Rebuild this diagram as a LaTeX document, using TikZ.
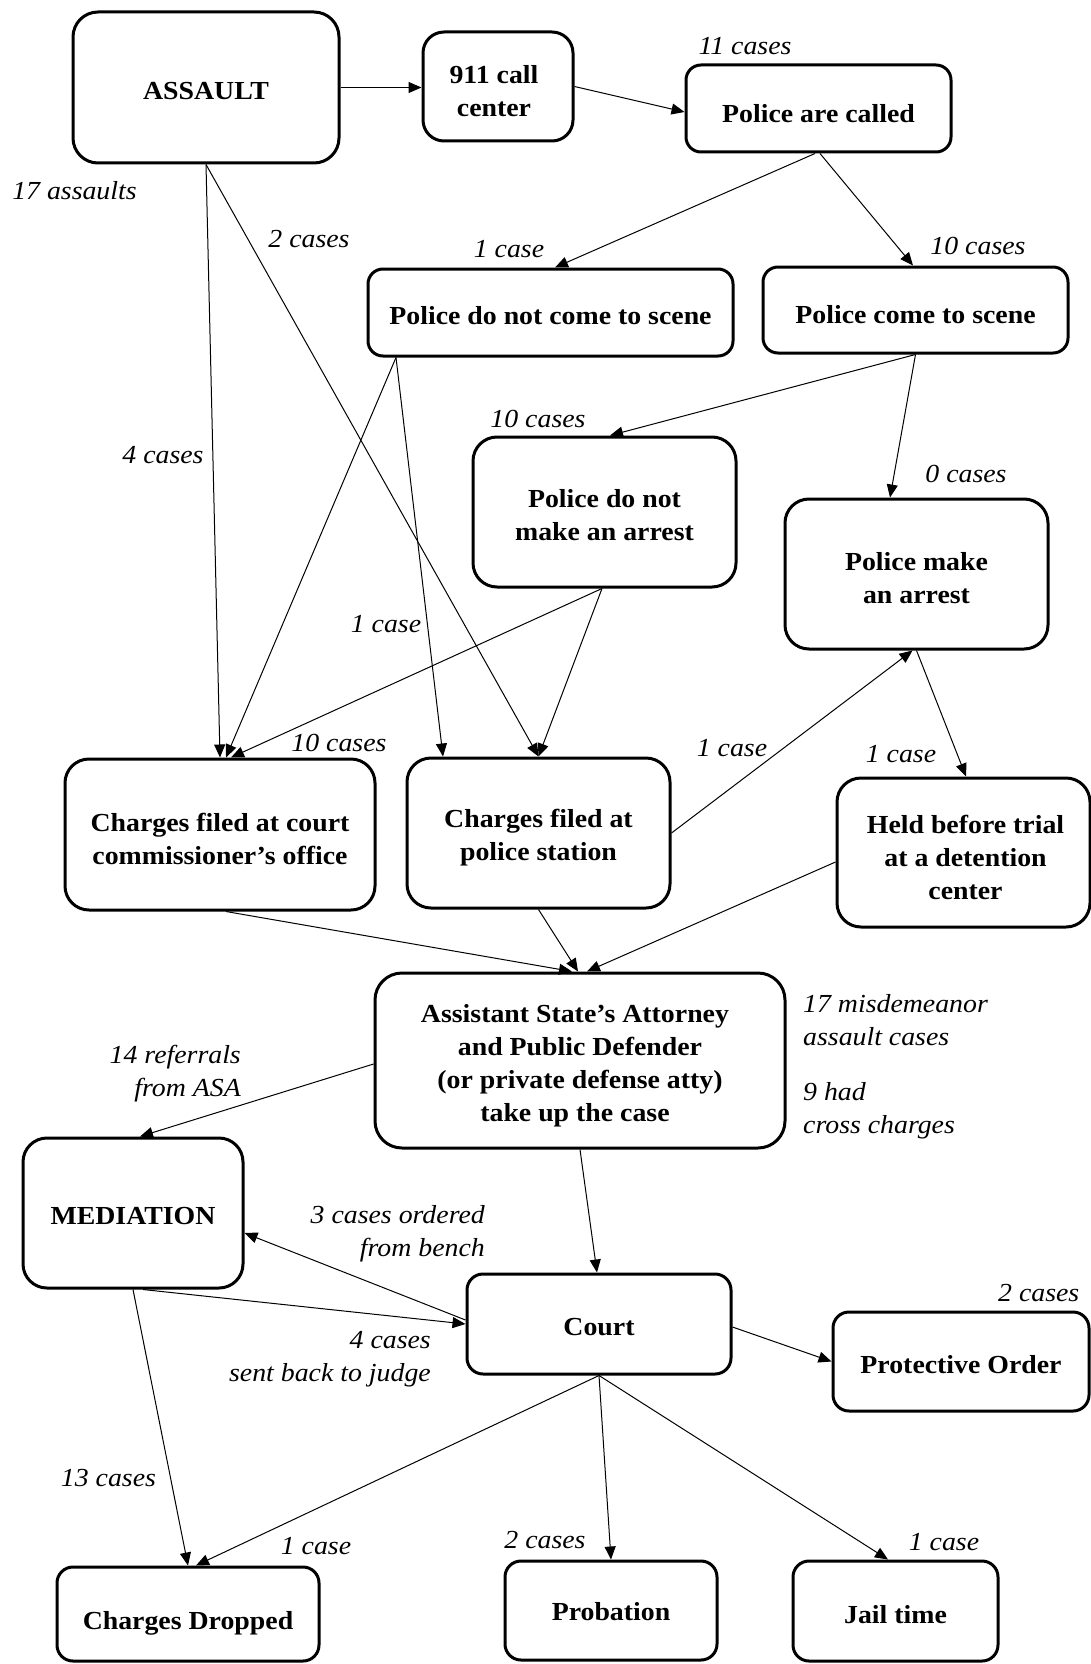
\documentclass[tikz,border=0pt]{standalone}
\usepackage{fontspec}
\setmainfont{Liberation Serif}[FakeStretch=1.07]
\usetikzlibrary{arrows.meta}
% invisible strut that sets the height of a box's first line
\newcommand\boxstrut[1]{\rule{0pt}{#1pt}}
\tikzset{
  box/.style={draw, line width=3pt, align=center, inner sep=2pt,
    font=\fontsize{26}{33}\selectfont\bfseries},
  lbl/.style={inner sep=0pt, font=\fontsize{26}{33}\selectfont\itshape},
  arr/.style={line width=1pt, -{Triangle[length=13pt,width=11pt]}},
}
\begin{document}
\begin{tikzpicture}[x=1pt, y=-1pt]
\useasboundingbox (0,0) rectangle (1091,1664);

% ---- boxes ----
\node[box, minimum width=266pt, minimum height=151pt, rounded corners=25pt] (assault) at (206,87.5) {\boxstrut{24}ASSAULT};
\node[box, minimum width=150pt, minimum height=109pt, rounded corners=21pt] (call) at (498,86.5) {\boxstrut{28}911 call\hspace*{8pt}\\center\hspace*{8pt}};
\node[box, minimum width=265pt, minimum height=87pt, rounded corners=15pt] (pac) at (818.5,108.5) {\boxstrut{28}Police are called};
\node[box, minimum width=365pt, minimum height=87pt, rounded corners=15pt] (pdnc) at (550.5,312.5) {\boxstrut{24}Police do not come to scene};
\node[box, minimum width=305pt, minimum height=86pt, rounded corners=15pt] (pcs) at (915.5,310) {\boxstrut{28}Police come to scene};
\node[box, minimum width=263pt, minimum height=150pt, rounded corners=24pt] (pdnma) at (604.5,512) {\boxstrut{24}Police do not\\make an arrest};
\node[box, minimum width=263pt, minimum height=150pt, rounded corners=24pt] (pma) at (916.5,574) {\boxstrut{26}Police make\\an arrest};
\node[box, minimum width=310pt, minimum height=151pt, rounded corners=24pt] (cfcc) at (220,834.5) {\boxstrut{28}Charges filed at court\\commissioner’s office};
\node[box, minimum width=263pt, minimum height=150pt, rounded corners=24pt] (cfps) at (538.5,833) {\boxstrut{28}Charges filed at\\police station};
\node[box, minimum width=253pt, minimum height=149pt, rounded corners=24pt] (held) at (963.5,852.5) {\boxstrut{28}\hspace*{4pt}Held before trial\\\hspace*{4pt}at a detention\\\hspace*{4pt}center};
\node[box, minimum width=410pt, minimum height=175pt, rounded corners=27pt] (asa) at (580,1060.5) {\boxstrut{28}Assistant State’s Attorney\hspace*{10pt}\\and Public Defender\hspace*{10pt}\\(or private defense atty)\hspace*{10pt}\\take up the case\hspace*{10pt}};
\node[box, minimum width=220pt, minimum height=150pt, rounded corners=24pt] (med) at (133,1213) {\boxstrut{24}MEDIATION};
\node[box, minimum width=264pt, minimum height=100pt, rounded corners=16pt] (court) at (599,1324) {\boxstrut{24}Court};
\node[box, minimum width=256pt, minimum height=99pt, rounded corners=16pt] (po) at (961,1361.5) {\boxstrut{24}Protective Order};
\node[box, minimum width=262pt, minimum height=94pt, rounded corners=16pt] (cd) at (188,1614) {\boxstrut{36}Charges Dropped};
\node[box, minimum width=212pt, minimum height=99pt, rounded corners=16pt] (prob) at (611,1610.5) {\boxstrut{20}Probation};
\node[box, minimum width=205pt, minimum height=100pt, rounded corners=16pt] (jail) at (895.5,1611) {\boxstrut{26}Jail time};

% ---- connectors ----
\draw[arr] (assault.east) -- (call.west |- assault.east);
\draw[arr] (call.east) -- ([yshift=-3.5pt]pac.west);
\draw[arr] ([xshift=-3.5pt]pac.south) -- ([xshift=4.5pt]pdnc.north);
\draw[arr] ([xshift=1.5pt]pac.south) -- ([xshift=-2.5pt]pcs.north);
\draw[arr] (assault.south) -- (cfcc.north);
\draw[arr] (assault.south) -- (cfps.north);
\draw[arr] ([xshift=-154.5pt]pdnc.south) -- ([xshift=6pt]cfcc.north);
\draw[arr] ([xshift=-154.5pt]pdnc.south) -- ([xshift=-95.5pt]cfps.north);
\draw[arr] (pcs.south) -- ([xshift=5.5pt]pdnma.north);
\draw[arr] (pcs.south) -- ([xshift=-26.5pt]pma.north);
\draw[arr] ([xshift=-2.5pt]pdnma.south) -- ([xshift=11pt]cfcc.north);
\draw[arr] ([xshift=-2.5pt]pdnma.south) -- (cfps.north);
\draw[arr] (cfps.east) -- ([xshift=-4pt]pma.south);
\draw[arr] (pma.south) -- ([xshift=2.5pt]held.north);
\draw[arr] ([xshift=6pt]cfcc.south) -- ([xshift=-8pt]asa.north);
\draw[arr] (cfps.south) -- ([xshift=-2pt]asa.north);
\draw[arr] ([yshift=-9.5pt]held.west) -- ([xshift=7pt]asa.north);
\draw[arr] ([yshift=-3.5pt]asa.west) -- ([xshift=7pt]med.north);
\draw[arr] (asa.south) -- ([xshift=-2pt]court.north);
\draw[arr] ([yshift=4pt]court.west) -- ([yshift=-20pt]med.east);
\draw[arr] ([xshift=10pt]med.south) -- (court.west);
\draw[arr] (med.south) -- (cd.north);
\draw[arr] (court.south) -- ([xshift=8pt]cd.north);
\draw[arr] (court.south) -- (prob.north);
\draw[arr] (court.south) -- ([xshift=-7.5pt]jail.north);
\draw[arr] ([yshift=-3pt]court.east) -- (po.west);

% ---- counts (multi-line labels are placed by their last baseline) ----
\node[lbl, anchor=base] (l11) at (745,55) {11 cases};
\node[lbl, anchor=base] (l17) at (74.5,200) {17 assaults};
\node[lbl, anchor=base] (l2) at (309,247) {2 cases};
\node[lbl, anchor=base] (l1a) at (509,257) {1 case};
\node[lbl, anchor=base] (l10a) at (978,254) {10 cases};
\node[lbl, anchor=base] (l4) at (163,463) {4 cases};
\node[lbl, anchor=base] (l10b) at (538,427) {10 cases};
\node[lbl, anchor=base] (l0) at (966,482) {0 cases};
\node[lbl, anchor=base] (l1b) at (386,632) {1 case};
\node[lbl, anchor=base] (l10c) at (339,751) {10 cases};
\node[lbl, anchor=base] (l1c) at (732,756) {1 case};
\node[lbl, anchor=base] (l1d) at (901,762) {1 case};
\node[lbl, anchor=base west, align=left] (lmis) at (803,1045) {17 misdemeanor\\assault cases};
\node[lbl, anchor=base west, align=left] (lcross) at (803,1133) {9 had\\cross charges};
\node[lbl, anchor=base east, align=right] (lref) at (241,1096) {14 referrals\\from ASA};
\node[lbl, anchor=base east, align=right] (lbench) at (485,1256) {3 cases ordered\\from bench};
\node[lbl, anchor=base east, align=right] (ljudge) at (431,1381) {4 cases\\sent back to judge};
\node[lbl, anchor=base east] (lpo) at (1079.5,1301) {2 cases};
\node[lbl, anchor=base] (l13) at (108.5,1486) {13 cases};
\node[lbl, anchor=base] (l1e) at (316,1554) {1 case};
\node[lbl, anchor=base] (l2b) at (545,1548) {2 cases};
\node[lbl, anchor=base] (l1f) at (944,1550) {1 case};
\end{tikzpicture}
\end{document}
